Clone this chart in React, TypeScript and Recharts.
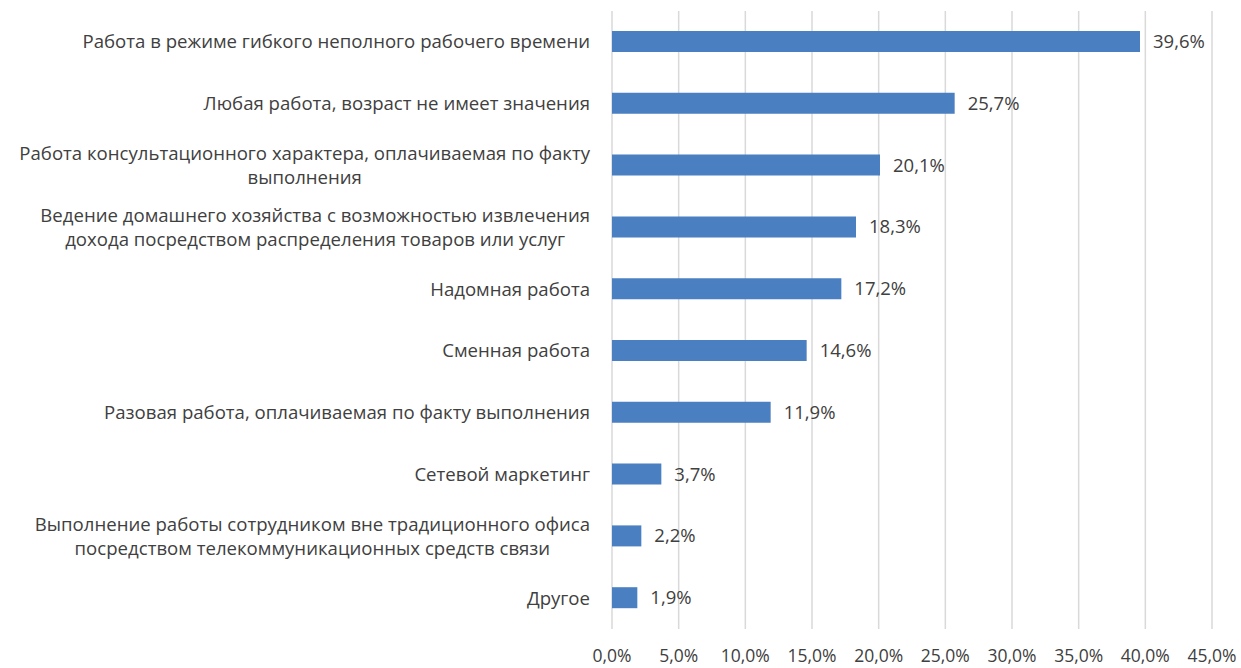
import React from "react"
import { BarChart, Bar, XAxis, YAxis, CartesianGrid, LabelList } from "recharts"

const categories = [
  "Работа в режиме гибкого неполного рабочего времени",
  "Любая работа, возраст не имеет значения",
  "Работа консультационного характера, оплачиваемая по факту\nвыполнения",
  "Ведение домашнего хозяйства с возможностью извлечения\nдохода посредством распределения товаров или услуг",
  "Надомная работа",
  "Сменная работа",
  "Разовая работа, оплачиваемая по факту выполнения",
  "Сетевой маркетинг",
  "Выполнение работы сотрудником вне традиционного офиса\nпосредством телекоммуникационных средств связи",
  "Другое",
]

const shares = [39.6, 25.7, 20.1, 18.3, 17.2, 14.6, 11.9, 3.7, 2.2, 1.9]

const xTicks = [0, 5, 10, 15, 20, 25, 30, 35, 40, 45]

const data = categories.map((name, i) => ({ name, value: shares[i] }))

const FONT = "'Open Sans', sans-serif"
const TEXT = "#404040"
const CAT_SIZE = 18.6

const pct = (v: number) => `${v.toFixed(1).replace(".", ",")}%`

let ctx: CanvasRenderingContext2D | null = null
function measure(s: string, size: number) {
  if (!ctx) ctx = document.createElement("canvas").getContext("2d")
  if (!ctx) return s.length * size * 0.55
  ctx.font = `${size}px 'Open Sans'`
  return ctx.measureText(s).width
}

function CategoryTick(props: any) {
  const { x, y, payload } = props
  const lines: string[] = String(payload.value).split("\n")
  const lh = 24
  const widest = Math.max(...lines.map((l) => measure(l, CAT_SIZE)))
  const cx = lines.length > 1 ? x - widest / 2 : x
  const y0 = y - ((lines.length - 1) * lh) / 2
  return (
    <text
      fontFamily={FONT}
      fontSize={CAT_SIZE}
      fill={TEXT}
      textAnchor={lines.length > 1 ? "middle" : "end"}
    >
      {lines.map((l, i) => (
        <tspan key={i} x={cx} y={y0 + i * lh} dy="0.35em">
          {l}
        </tspan>
      ))}
    </text>
  )
}

export default function App() {
  return (
    <div style={{ width: 1241, height: 668, background: "#fff" }}>
      <style>{"body{margin:0}"}</style>
      <BarChart
        width={1241}
        height={668}
        data={data}
        layout="vertical"
        margin={{ top: 11, right: 29, bottom: 9, left: 0 }}
        barCategoryGap={0}
      >
        <CartesianGrid horizontal={false} stroke="#d9d9d9" strokeWidth={1.5} />
        <XAxis
          type="number"
          domain={[0, 45]}
          ticks={xTicks}
          tickFormatter={pct}
          axisLine={false}
          tickLine={false}
          tickMargin={15}
          height={30}
          interval={0}
          tick={{ fontFamily: FONT, fontSize: 17.5, fill: TEXT }}
        />
        <YAxis
          type="category"
          dataKey="name"
          width={612}
          axisLine={false}
          tickLine={false}
          tickSize={0}
          tickMargin={22}
          interval={0}
          tick={<CategoryTick />}
        />
        <Bar dataKey="value" fill="#4a7fc1" barSize={21} isAnimationActive={false}>
          <LabelList
            dataKey="value"
            position="right"
            offset={13}
            formatter={(v: any) => pct(Number(v))}
            style={{ fontFamily: FONT, fontSize: 18.5, fill: TEXT, fontWeight: 500 }}
          />
        </Bar>
      </BarChart>
    </div>
  )
}
